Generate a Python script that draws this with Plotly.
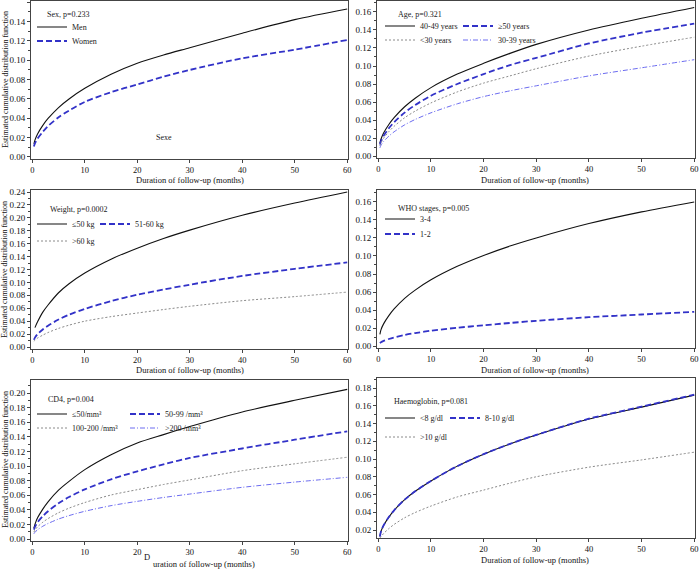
import plotly.graph_objects as go

W, H = 700, 570
FONT = "Liberation Serif"

# ---------------- data ----------------
T = [0.3, 0.5, 1, 2, 3, 5, 7, 10, 15, 20, 25, 30, 40, 50, 60]

sex_men   = [0.0135, 0.0174, 0.0238, 0.0327, 0.0398, 0.0511, 0.0600, 0.0710, 0.0856, 0.0970, 0.1055, 0.1130, 0.1280, 0.1420, 0.1530]
sex_women = [0.0108, 0.0140, 0.0190, 0.0260, 0.0320, 0.0410, 0.0480, 0.0570, 0.0670, 0.0750, 0.0830, 0.0900, 0.1020, 0.1110, 0.1210]

age_40_49 = [0.0144, 0.0186, 0.0255, 0.0350, 0.0426, 0.0547, 0.0642, 0.0760, 0.0910, 0.1030, 0.1140, 0.1240, 0.1400, 0.1530, 0.1650]
age_50p   = [0.0127, 0.0164, 0.0224, 0.0308, 0.0375, 0.0482, 0.0566, 0.0670, 0.0800, 0.0910, 0.1010, 0.1090, 0.1250, 0.1370, 0.1470]
age_lt30  = [0.0112, 0.0145, 0.0198, 0.0271, 0.0330, 0.0425, 0.0499, 0.0590, 0.0712, 0.0810, 0.0890, 0.0970, 0.1110, 0.1220, 0.1320]
age_30_39 = [0.0091, 0.0118, 0.0161, 0.0221, 0.0269, 0.0346, 0.0406, 0.0480, 0.0580, 0.0660, 0.0724, 0.0780, 0.0890, 0.0980, 0.1070]

wt_le50   = [None, 0.0300, 0.0390, 0.0540, 0.0650, 0.0840, 0.0980, 0.1146, 0.1360, 0.1530, 0.1680, 0.1810, 0.2040, 0.2230, 0.2400]
wt_51_60  = [0.0112, 0.0145, 0.0198, 0.0271, 0.0330, 0.0425, 0.0500, 0.0590, 0.0710, 0.0810, 0.0890, 0.0965, 0.1100, 0.1210, 0.1310]
wt_gt60   = [0.0090, 0.0105, 0.0138, 0.0184, 0.0224, 0.0288, 0.0338, 0.0400, 0.0470, 0.0526, 0.0580, 0.0630, 0.0717, 0.0780, 0.0850]

who_34    = [0.0130, 0.0180, 0.0246, 0.0338, 0.0412, 0.0530, 0.0621, 0.0735, 0.0885, 0.1006, 0.1110, 0.1200, 0.1360, 0.1490, 0.1600]
who_12    = [0.0032, 0.0042, 0.0057, 0.0078, 0.0095, 0.0122, 0.0144, 0.0170, 0.0203, 0.0230, 0.0256, 0.0280, 0.0320, 0.0350, 0.0380]

cd4_le50    = [0.0150, 0.0200, 0.0290, 0.0410, 0.0510, 0.0670, 0.0790, 0.0950, 0.1154, 0.1315, 0.1430, 0.1540, 0.1740, 0.1900, 0.2050]
cd4_50_99   = [0.0129, 0.0167, 0.0228, 0.0313, 0.0380, 0.0490, 0.0575, 0.0680, 0.0818, 0.0927, 0.1023, 0.1110, 0.1240, 0.1360, 0.1475]
cd4_100_200 = [0.0095, 0.0123, 0.0168, 0.0230, 0.0280, 0.0360, 0.0423, 0.0500, 0.0603, 0.0676, 0.0747, 0.0810, 0.0936, 0.1030, 0.1120]
cd4_gt200   = [0.0072, 0.0093, 0.0127, 0.0175, 0.0213, 0.0274, 0.0321, 0.0380, 0.0457, 0.0516, 0.0569, 0.0616, 0.0708, 0.0780, 0.0845]

hb_lt8  = [0.0130, 0.0184, 0.0252, 0.0346, 0.0422, 0.0542, 0.0636, 0.0753, 0.0920, 0.1055, 0.1170, 0.1270, 0.1450, 0.1585, 0.1720]
hb_8_10 = [0.0125, 0.0184, 0.0252, 0.0346, 0.0422, 0.0542, 0.0636, 0.0753, 0.0920, 0.1055, 0.1170, 0.1272, 0.1454, 0.1590, 0.1725]
hb_gt10 = [0.0110, 0.0125, 0.0160, 0.0216, 0.0263, 0.0338, 0.0397, 0.0470, 0.0573, 0.0650, 0.0728, 0.0800, 0.0908, 0.0990, 0.1077]

X_TICKS = [0, 10, 20, 30, 40, 50, 60]
Y_TITLE = "Estimated cumulative distribution function"
X_TITLE = "Duration of follow-up (months)"

# ---------------- styles ----------------
S_BLACK = dict(color="#111111", width=1.1, dash="solid")
S_BLUE = dict(color="#3232C8", width=1.8, dash="6px,3px")
S_GRAY = dict(color="#8a8a8a", width=1, dash="2px,2px")
S_LBLUE = dict(color="#6c6cf0", width=1, dash="5px,2px,1px,2px")

# panel geometry (pixels): x0, x1, y_top, y_bottom, y-range, dtick
panels = [
    dict(x=(31, 348), y=(1, 159), yr=(-0.0021, 0.1613), dt=0.02),
    dict(x=(377, 695), y=(1, 158), yr=(-0.0022, 0.1722), dt=0.02),
    dict(x=(31, 348), y=(190, 349), yr=(-0.0031, 0.2431), dt=0.02),
    dict(x=(377, 695), y=(190, 348), yr=(-0.0022, 0.1733), dt=0.02),
    dict(x=(31, 348), y=(380, 541), yr=(-0.0027, 0.2178), dt=0.02),
    dict(x=(377, 695), y=(378, 538), yr=(0.011, 0.1913), dt=0.02),
]

# series: panel index, name, values, style, legend text position (px)
series = [
    (0, "Men", sex_men, S_BLACK, (72, 27)),
    (0, "Women", sex_women, S_BLUE, (72, 41)),
    (1, "40-49 years", age_40_49, S_BLACK, (420, 26)),
    (1, "\u226550 years", age_50p, S_BLUE, (498, 26)),
    (1, "<30 years", age_lt30, S_GRAY, (420, 40)),
    (1, "30-39 years", age_30_39, S_LBLUE, (498, 40)),
    (2, "\u226450 kg", wt_le50, S_BLACK, (72, 224)),
    (2, "51-60 kg", wt_51_60, S_BLUE, (135, 224)),
    (2, ">60 kg", wt_gt60, S_GRAY, (72, 241)),
    (3, "3-4", who_34, S_BLACK, (420, 219)),
    (3, "1-2", who_12, S_BLUE, (420, 234)),
    (4, "\u226450/mm\u00b3", cd4_le50, S_BLACK, (72, 414)),
    (4, "50-99 /mm\u00b3", cd4_50_99, S_BLUE, (165, 414)),
    (4, "100-200 /mm\u00b3", cd4_100_200, S_GRAY, (72, 428)),
    (4, ">200 /mm\u00b3", cd4_gt200, S_LBLUE, (165, 428)),
    (5, "<8 g/dl", hb_lt8, S_BLACK, (420, 418)),
    (5, "8-10 g/dl", hb_8_10, S_BLUE, (485, 418)),
    (5, ">10 g/dl", hb_gt10, S_GRAY, (420, 437)),
]

headers = [
    (0, "Sex, p=0.233", 45, 15),
    (1, "Age, p=0.321", 396, 15),
    (2, "Weight, p=0.0002", 48, 209),
    (3, "WHO stages, p=0.005", 396, 208),
    (4, "CD4, p=0.004", 46, 399),
    (5, "Haemoglobin, p=0.081", 392, 401),
]

fig = go.Figure()
layout = dict(
    width=W, height=H, margin=dict(l=0, r=0, t=0, b=0, autoexpand=False),
    paper_bgcolor="white", plot_bgcolor="white",
    font=dict(family=FONT, color="#111111"),
    showlegend=True,
)

for i, p in enumerate(panels):
    k = "" if i == 0 else str(i + 1)
    axis_common = dict(showline=True, mirror=True, linecolor="#444444", linewidth=1,
                       ticks="outside", ticklen=3, tickcolor="#444444", showgrid=False,
                       zeroline=False, automargin=False)
    layout["xaxis" + k] = dict(
        axis_common, domain=[p["x"][0] / W, p["x"][1] / W], anchor="y" + k,
        range=[-0.25, 60.15], tickvals=X_TICKS, tickfont=dict(family=FONT, size=8.5, color="#111"),
    )
    layout["yaxis" + k] = dict(
        axis_common, domain=[1 - p["y"][1] / H, 1 - p["y"][0] / H], anchor="x" + k,
        range=list(p["yr"]), dtick=p["dt"], tick0=0, tickformat=".2f",
        tickfont=dict(family=FONT, size=9, color="#111"),
        minor=dict(ticks="outside", ticklen=2, dtick=0.01, tickcolor="#444444"),
    )

for j, (pi, name, vals, style, (tx, ty)) in enumerate(series):
    k = "" if pi == 0 else str(pi + 1)
    lg = "legend" if j == 0 else "legend%d" % (j + 1)
    fig.add_trace(go.Scatter(
        x=T, y=vals, mode="lines", name=name, line=dict(style, shape="spline", smoothing=0.8),
        xaxis="x" + k, yaxis="y" + k, legend=lg, hoverinfo="skip",
    ))
    layout[lg] = dict(x=(tx - 40) / W, y=1 - ty / H, xanchor="left", yanchor="middle",
                      bgcolor="rgba(0,0,0,0)", borderwidth=0, itemwidth=30,
                      font=dict(family=FONT, size=8, color="#222"))

ann = []
for pi, txt, hx, hy in headers:
    ann.append(dict(text=txt, x=hx / W, y=1 - hy / H, xref="paper", yref="paper",
                    xanchor="left", yanchor="middle", showarrow=False,
                    font=dict(family=FONT, size=8, color="#222")))

# x-axis titles
for cx, cy in [(190, 180), (535, 180), (190, 370), (535, 370), (535, 560)]:
    ann.append(dict(text=X_TITLE, x=cx / W, y=1 - cy / H, xref="paper", yref="paper",
                    xanchor="center", yanchor="middle", showarrow=False,
                    font=dict(family=FONT, size=8.5, color="#111")))
# the split title of the bottom-left panel
ann.append(dict(text="D", x=147 / W, y=1 - 557 / H, xref="paper", yref="paper",
                xanchor="center", yanchor="middle", showarrow=False,
                font=dict(family=FONT, size=8.5, color="#111")))
ann.append(dict(text=X_TITLE[1:], x=151 / W, y=1 - 564 / H, xref="paper", yref="paper",
                xanchor="left", yanchor="middle", showarrow=False,
                font=dict(family=FONT, size=8.5, color="#111")))
# y-axis titles
for cy in [80, 270, 460]:
    ann.append(dict(text=Y_TITLE, x=5 / W, y=1 - cy / H, xref="paper", yref="paper",
                    xanchor="center", yanchor="middle", textangle=-90, showarrow=False,
                    font=dict(family=FONT, size=8, color="#111")))
# stray label in first panel
ann.append(dict(text="Sexe", x=25, y=0.02, xref="x", yref="y", showarrow=False,
                font=dict(family=FONT, size=8, color="#222")))

layout["annotations"] = ann
fig.update_layout(**layout)
fig.write_html(
    "out.html",
    config={"displayModeBar": False},
    post_script="document.body.style.margin='0px';document.body.style.overflow='hidden';",
)
